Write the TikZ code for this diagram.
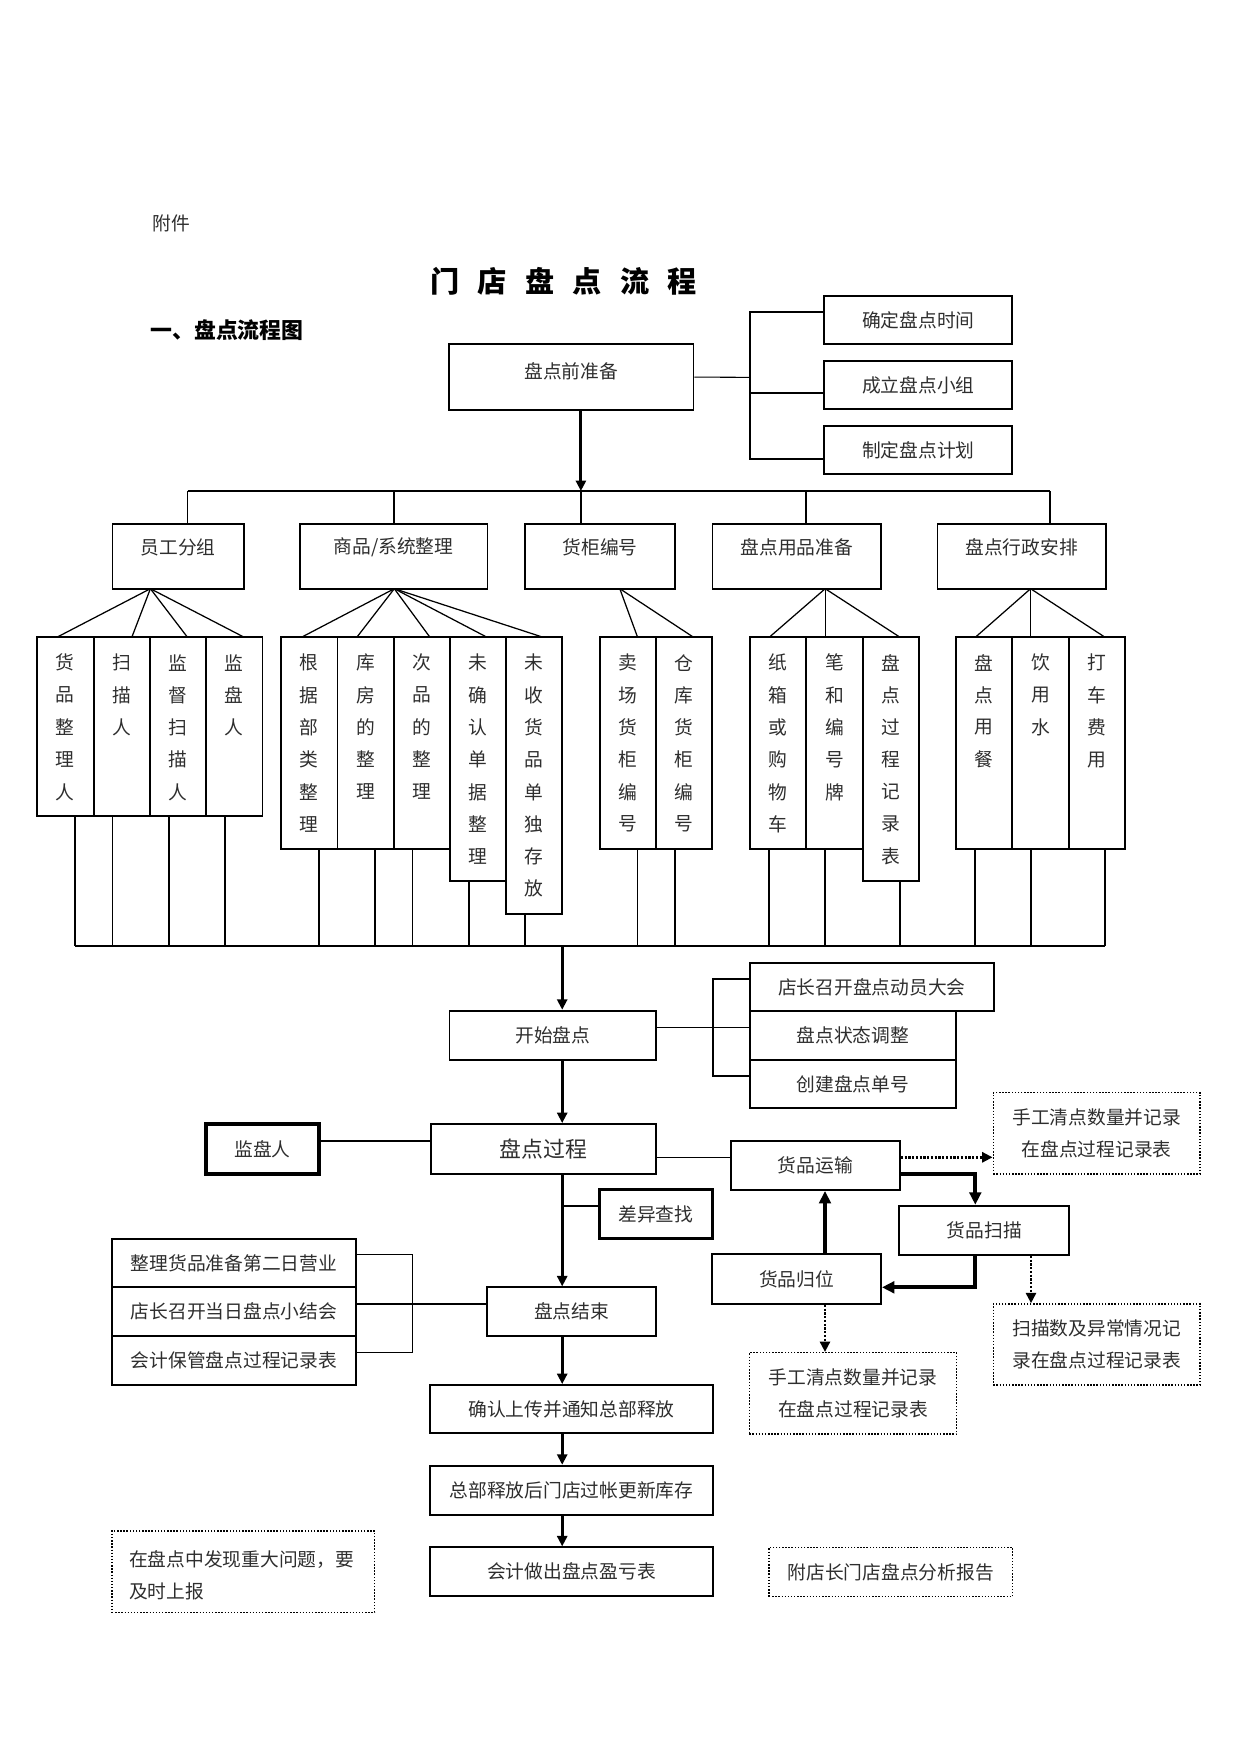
\documentclass[tikz,border=0pt]{standalone}
\usepackage{fontspec}
\setmainfont{Noto Sans CJK SC}
\usetikzlibrary{fit,arrows.meta}
\newcommand\mkcol[5]{%
  \node[cbox, fit={(#2,637.3)(#3,#4)}] (#1) {};
  \foreach \c [count=\i from 0] in {#5}{\node[chr] (#1-\i) at ({(#2+#3)/2},{662.7+32.3*\i}) {\c};}%
}
% box with centred text: style, name, corner1, corner2, text style, text
\newcommand\bx[6]{%
  \node[#1, fit={(#3)(#4)}] (#2) {};
  \node[txt, align=center, #5] (#2-t) at (#2.center) {#6};%
}
\begin{document}
\begin{tikzpicture}[x=0.48pt,y=-0.48pt,
  txt/.style={font=\fontsize{9}{11}\selectfont, text=black!82, inner sep=0pt},
  box/.style={draw, line width=0.9pt, inner sep=0pt},
  tbox/.style={box, line width=1.7pt},
  cbox/.style={draw, line width=0.9pt, inner sep=0pt},
  dbox/.style={draw, line width=0.7pt, dash pattern=on 0.7pt off 0.8pt, inner sep=0pt},
  two/.style={font=\fontsize{9}{15.4}\selectfont},
  chr/.style={font=\fontsize{9}{11}\selectfont, text=black!82, inner sep=0pt},
  ln/.style={line width=0.95pt},
  mid/.style={line width=0.8pt},
  thin/.style={line width=0.5pt},
  fan/.style={line width=0.6pt},
  arr/.style={line width=1.4pt, -{Triangle[length=5pt,width=4.8pt]}},
  tarr/.style={line width=2pt, -{Triangle[length=6pt,width=5.6pt]}},
  darr/.style={line width=1.4pt, dash pattern=on 1pt off 0.8pt, -{Triangle[length=5pt,width=4.8pt]}}
]
\useasboundingbox (0,0) rectangle (1241,1754);

% header
\node[txt, anchor=west] (fj) at (152,223) {附件};
\node[font=\fontsize{14}{16}\selectfont\bfseries, inner sep=0pt] (title) at (563.5,281)
  {门\hspace{8.8pt}店\hspace{8.8pt}盘\hspace{8.8pt}点\hspace{8.8pt}流\hspace{8.8pt}程};
\node[font=\fontsize{10.5}{12}\selectfont\bfseries, inner sep=0pt, anchor=west] (sub) at (150,330) {一、盘点流程图};

% preparation
\node[box, fit={(449,344.3)(693.5,410)}] (prep) {};
\node[txt] (prept) at ([yshift=-13.2pt]prep.north) {盘点前准备};
\bx{box}{r1}{824.2,295.7}{1012.3,344.3}{}{确定盘点时间}
\bx{box}{r2}{824.2,360.7}{1012.3,409.3}{}{成立盘点小组}
\bx{box}{r3}{824.2,425.7}{1012.3,474.3}{}{制定盘点计划}
\coordinate (k0) at (750,377.3);
\coordinate (k1) at (750,312.3);
\coordinate (k2) at (750,393.3);
\coordinate (k3) at (750,459);
\draw[thin] (prep.east) -- (k0);
\draw[mid] (k1 -| r1.west) -- (k1) -- (k3) -- (k3 -| r3.west);
\draw[mid] (k2) -- (k2 -| r2.west);

% level 2
\node[box, fit={(112.5,523.7)(243.9,588.7)}] (b1) {};
\node[box, fit={(299.6,523.7)(487.5,588.7)}] (b2) {};
\node[box, fit={(524.6,523.7)(675.4,588.7)}] (b3) {};
\node[box, fit={(712.5,523.7)(881.2,588.7)}] (b4) {};
\node[box, fit={(937.5,523.7)(1105.8,588.7)}] (b5) {};
\node[txt] (b1t) at ([yshift=-11.8pt]b1.north) {员工分组};
\node[txt] (b2t) at ([yshift=-11.8pt]b2.north) {商品/系统整理};
\node[txt] (b3t) at ([yshift=-11.8pt]b3.north) {货柜编号};
\node[txt] (b4t) at ([yshift=-11.8pt]b4.north) {盘点用品准备};
\node[txt] (b5t) at ([yshift=-11.8pt]b5.north) {盘点行政安排};

\coordinate (t1) at (187.5,491);
\coordinate (t2) at (393.6,491);
\coordinate (t3) at (580.9,491);
\coordinate (t4) at (805.9,491);
\coordinate (t5) at (1049.8,491);
\draw[ln] (t1) -- (t5);
\draw[ln] (t1) -- (t1 |- b1.north);
\draw[ln] (t2) -- (t2 |- b2.north);
\draw[ln] (t3) -- (t3 |- b3.north);
\draw[ln] (t4) -- (t4 |- b4.north);
\draw[ln] (t5) -- (t5 |- b5.north);
\draw[arr] (prep.south -| t3) -- (t3);

% columns
\mkcol{g1a}{37.1}{93.6}{815.7}{货,品,整,理,人}
\mkcol{g1b}{93.6}{149.6}{815.7}{扫,描,人}
\mkcol{g1c}{149.6}{206.1}{815.7}{监,督,扫,描,人}
\mkcol{g1d}{206.1}{262.5}{815.7}{监,盘,人}
\mkcol{g2a}{281.1}{337.5}{849}{根,据,部,类,整,理}
\mkcol{g2b}{337.5}{393.6}{849}{库,房,的,整,理}
\mkcol{g2c}{393.6}{449.6}{849}{次,品,的,整,理}
\mkcol{g2d}{449.6}{506.1}{880.7}{未,确,认,单,据,整,理}
\mkcol{g2e}{506.1}{562.1}{914}{未,收,货,品,单,独,存,放}
\mkcol{g3a}{599.8}{656.2}{849}{卖,场,货,柜,编,号}
\mkcol{g3b}{656.2}{712.1}{849}{仓,库,货,柜,编,号}
\mkcol{g4a}{749.9}{806.3}{849}{纸,箱,或,购,物,车}
\mkcol{g4b}{806.3}{862.6}{849}{笔,和,编,号,牌}
\mkcol{g4c}{862.6}{919}{880.7}{盘,点,过,程,记,录,表}
\mkcol{g5a}{956}{1012.4}{849}{盘,点,用,餐}
\mkcol{g5b}{1012.4}{1068.7}{849}{饮,用,水}
\mkcol{g5c}{1068.7}{1125.1}{849}{打,车,费,用}

% fans
\coordinate (a1) at (150.4,588.7);
\coordinate (a2) at (394.3,588.7);
\coordinate (a3) at (619.8,588.7);
\coordinate (a4) at (825.2,588.7);
\coordinate (a5) at (1030.6,588.7);
\foreach \x in {56.8,131.8,187.5,244.3} \draw[fan] (a1) -- (\x,637.3);
\foreach \x in {301.4,356.8,430,487.1,543.2} \draw[fan] (a2) -- (\x,637.3);
\foreach \x in {637.6,693.6} \draw[fan] (a3) -- (\x,637.3);
\foreach \x in {769.2,825.2,900.1} \draw[fan] (a4) -- (\x,637.3);
\foreach \x in {975.3,1030.6,1105.1} \draw[fan] (a5) -- (\x,637.3);

% drops to bottom bus
\foreach \x/\n/\s in {75.4/g1a/ln,112.5/g1b/thin,168.6/g1c/ln,225/g1d/ln,
  318.6/g2a/ln,375/g2b/ln,412.5/g2c/thin,468.6/g2d/ln,525.4/g2e/ln,
  637.6/g3a/thin,675.4/g3b/ln,769.2/g4a/ln,825.2/g4b/ln,900.1/g4c/ln,
  975.3/g5a/ln,1030.6/g5b/ln,1105.4/g5c/ln}{
  \coordinate (q-\n) at (\x,945.7);
  \draw[\s] (q-\n |- \n.south) -- (q-\n);
}
\draw[ln] (q-g1a) -- (q-g5c);
\coordinate (bM) at (562.2,945.7);

% start
\bx{box}{ks}{449.5,1010.7}{656.1,1059.7}{}{开始盘点}
\draw[arr] (bM) -- (bM |- ks.north);
\bx{box}{m1}{749.9,962.7}{994,1011}{}{店长召开盘点动员大会}
\bx{box}{m2}{749.9,1011}{955.8,1059.7}{}{盘点状态调整}
\bx{box}{m3}{749.9,1059.7}{955.8,1108.3}{}{创建盘点单号}
\coordinate (j1) at (712.8,979);
\coordinate (j2) at (712.8,1027.3);
\coordinate (j3) at (712.8,1075.7);
\draw[thin] (j2 -| ks.east) -- (j2 -| m2.west);
\draw[mid] (j1 -| m1.west) -- (j1) -- (j3) -- (j3 -| m3.west);

% process
\bx{box}{gc}{430.7,1124}{656,1174}{font=\fontsize{10.5}{12}\selectfont}{盘点过程}
\draw[arr] (ks.south -| bM) -- (bM |- gc.north);
\bx{tbox}{jp}{206,1124}{319,1174}{}{监盘人}
\coordinate (h1) at (350,1140.7);
\draw[mid] (h1 -| jp.east) -- (h1 -| gc.west);
\bx{tbox}{cy}{599.3,1189.3}{712.3,1238.7}{}{差异查找}
\coordinate (h2) at (562.3,1206);
\draw[mid] (h2) -- (h2 -| cy.west);
\bx{box}{js}{487.3,1287.3}{656,1336}{}{盘点结束}
\draw[arr] (gc.south -| bM) -- (bM |- js.north);

\bx{box}{l1}{111.8,1239}{356,1287.3}{}{整理货品准备第二日营业}
\bx{box}{l2}{111.8,1287.3}{356,1336}{}{店长召开当日盘点小结会}
\bx{box}{l3}{111.8,1336}{356,1384.7}{}{会计保管盘点过程记录表}
\coordinate (p1) at (412.3,1254.7);
\coordinate (p2) at (412.3,1304);
\coordinate (p3) at (412.3,1352.3);
\draw[thin] (p1 -| l1.east) -- (p1) -- (p3) -- (p3 -| l3.east);
\draw[mid] (p2 -| l2.east) -- (p2 -| js.west);

\bx{box}{qr}{430.3,1385}{712.7,1433.3}{}{确认上传并通知总部释放}
\bx{box}{zb}{430.3,1465.7}{712.7,1515}{}{总部释放后门店过帐更新库存}
\bx{box}{kj}{430.3,1547.3}{712.7,1596}{}{会计做出盘点盈亏表}
\draw[arr] (js.south -| bM) -- (bM |- qr.north);
\draw[arr] (qr.south -| bM) -- (bM |- zb.north);
\draw[arr] (zb.south -| bM) -- (bM |- kj.north);

\node[dbox, fit={(112,1531)(374.6,1612.3)}] (note) {};
\node[txt, anchor=west, align=left, two] (notet) at (128.8,1574.9)
  {在盘点中发现重大问题，要\\及时上报};
\bx{dbox}{fd}{769,1547.3}{1012.5,1596.7}{}{附店长门店盘点分析报告}

% goods cycle
\bx{box}{ys}{730.7,1141}{900,1190}{}{货品运输}
\coordinate (h3) at (700,1157.3);
\draw[thin] (h3 -| gc.east) -- (h3 -| ys.west);
\bx{dbox}{d1}{993.3,1092.7}{1200,1174}{two}{手工清点数量并记录\\在盘点过程记录表}
\draw[darr] (h3 -| ys.east) -- (h3 -| d1.west);
\bx{box}{sm}{899.3,1205.7}{1069.3,1255}{}{货品扫描}
\bx{box}{gw}{712.3,1254.3}{881,1304}{}{货品归位}
\coordinate (v1) at (975.3,1174);
\coordinate (v2) at (975.3,1287.3);
\coordinate (v3) at (825,1220);
\coordinate (v4) at (1031,1280);
\draw[tarr] (v1 -| ys.east) -- (v1) -- (v1 |- sm.north);
\draw[tarr] (v2 |- sm.south) -- (v2) -- (v2 -| gw.east);
\draw[tarr] (gw.north -| v3) -- (v3 |- ys.south);
\bx{dbox}{d2}{749.3,1352.7}{956.7,1434}{two}{手工清点数量并记录\\在盘点过程记录表}
\draw[darr] (gw.south -| v3) -- (v3 |- d2.north);
\bx{dbox}{d3}{993.3,1304}{1200,1385}{two}{扫描数及异常情况记\\录在盘点过程记录表}
\draw[darr] (sm.south -| v4) -- (v4 |- d3.north);
\end{tikzpicture}
\end{document}
